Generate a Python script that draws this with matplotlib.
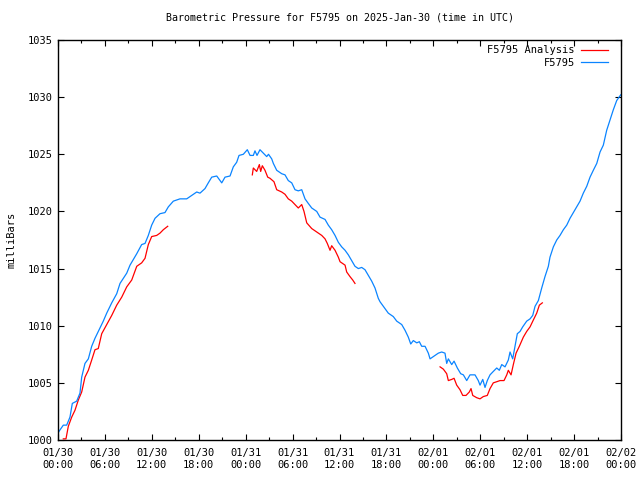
import datetime as dt
import matplotlib
matplotlib.use("Agg")
import matplotlib.pyplot as plt

# hours since 2025-01-30 00:00 UTC, pressure in mb
blue_hours = [0.0, 0.17, 0.68, 1.11, 1.53, 1.83, 2.39, 2.81, 3.03, 3.45, 3.88, 4.31, 4.73, 5.15,
              5.79, 6.23, 6.87, 7.51, 7.93, 8.79, 9.21, 10.07, 10.70, 11.13, 11.55, 11.98, 12.41,
              13.04, 13.68, 14.11, 14.75, 15.60, 16.46, 17.10, 17.74, 18.16, 18.80, 19.22, 19.66,
              20.30, 20.94, 21.36, 22.00, 22.42, 22.85, 23.15, 23.70, 24.21, 24.56, 24.98, 25.19,
              25.45, 25.83, 26.26, 26.69, 26.92, 27.33, 27.54, 27.97, 28.61, 29.03, 29.45, 29.89,
              30.31, 30.73, 31.17, 31.59, 32.01, 32.45, 33.09, 33.51, 34.15, 34.57, 35.00, 35.43,
              35.85, 36.28, 36.71, 37.13, 37.56, 37.98, 38.41, 38.84, 39.26, 39.69, 40.12, 40.54,
              40.96, 41.18, 41.82, 42.24, 42.88, 43.32, 43.96, 44.38, 44.80, 45.11, 45.44, 45.88,
              46.21, 46.51, 46.94, 47.36, 47.58, 48.00, 48.64, 49.07, 49.49, 49.71, 49.92, 50.35,
              50.65, 51.07, 51.50, 51.84, 52.27, 52.69, 53.33, 53.75, 53.97, 54.32, 54.61, 54.90,
              55.25, 55.67, 56.11, 56.44, 56.75, 57.17, 57.59, 57.81, 58.15, 58.45, 58.74, 59.09,
              59.43, 59.94, 60.37, 60.71, 61.01, 61.43, 61.86, 62.28, 62.71, 62.92, 63.35, 63.78,
              64.20, 64.63, 65.06, 65.48, 65.91, 66.34, 66.76, 67.18, 67.62, 68.04, 68.46, 68.90,
              69.32, 69.74, 70.17, 70.60, 71.02, 71.45, 71.96]
blue_mb = [1000.6, 1000.8, 1001.3, 1001.3, 1002.0, 1003.2, 1003.4, 1004.1, 1005.5, 1006.7, 1007.1,
           1008.2, 1008.9, 1009.5, 1010.4, 1011.1, 1012.0, 1012.8, 1013.7, 1014.6, 1015.3, 1016.3,
           1017.1, 1017.2, 1017.9, 1018.8, 1019.4, 1019.8, 1019.9, 1020.4, 1020.9, 1021.1, 1021.1,
           1021.4, 1021.7, 1021.6, 1022.0, 1022.5, 1023.0, 1023.1, 1022.5, 1023.0, 1023.1, 1023.9,
           1024.3, 1024.9, 1025.0, 1025.4, 1024.9, 1024.9, 1025.3, 1024.9, 1025.4, 1025.1, 1024.8,
           1025.0, 1024.6, 1024.2, 1023.6, 1023.3, 1023.2, 1022.7, 1022.5, 1021.9, 1021.8, 1021.9,
           1021.1, 1020.7, 1020.3, 1020.0, 1019.5, 1019.3, 1018.8, 1018.4, 1017.9, 1017.3, 1016.9,
           1016.6, 1016.2, 1015.7, 1015.2, 1015.0, 1015.1, 1014.9, 1014.4, 1013.9, 1013.3, 1012.4,
           1012.1, 1011.5, 1011.1, 1010.8, 1010.4, 1010.1, 1009.6, 1009.0, 1008.4, 1008.7, 1008.5,
           1008.6, 1008.2, 1008.2, 1007.6, 1007.1, 1007.3, 1007.6, 1007.7, 1007.6, 1006.7, 1007.1,
           1006.6, 1006.9, 1006.3, 1005.8, 1005.7, 1005.2, 1005.7, 1005.7, 1005.2, 1004.8, 1005.3,
           1004.6, 1005.2, 1005.7, 1006.0, 1006.3, 1006.1, 1006.6, 1006.4, 1007.0, 1007.7, 1007.1,
           1008.2, 1009.3, 1009.5, 1009.9, 1010.4, 1010.6, 1010.9, 1011.7, 1012.2, 1013.3, 1014.3,
           1015.2, 1016.0, 1016.9, 1017.5, 1017.9, 1018.4, 1018.8, 1019.4, 1019.9, 1020.4, 1020.9,
           1021.6, 1022.2, 1023.0, 1023.6, 1024.2, 1025.2, 1025.8, 1027.1, 1028.0, 1028.9, 1029.7,
           1030.2]

# analysis series has three separate pieces
red_hours_1 = [0.68, 1.02, 1.32, 1.75, 2.17, 2.60, 3.03, 3.45, 3.88, 4.31, 4.73, 5.15, 5.59, 6.23,
               6.87, 7.51, 8.15, 8.79, 9.43, 10.07, 10.70, 11.13, 11.55, 11.98, 12.62, 13.04,
               13.47, 14.03]
red_mb_1 = [1000.1, 1000.1, 1001.2, 1002.0, 1002.6, 1003.5, 1004.2, 1005.5, 1006.1, 1007.0, 1007.9,
            1008.0, 1009.3, 1010.1, 1010.9, 1011.8, 1012.5, 1013.4, 1014.0, 1015.2, 1015.5, 1015.9,
            1017.1, 1017.8, 1017.9, 1018.1, 1018.4, 1018.7]
red_hours_2 = [24.85, 24.98, 25.41, 25.75, 25.92, 26.13, 26.47, 26.82, 27.11, 27.62, 27.97, 28.61,
               29.03, 29.45, 29.89, 30.31, 30.73, 31.17, 31.46, 31.81, 32.45, 33.09, 33.73, 34.15,
               34.44, 34.79, 35.00, 35.43, 35.85, 36.07, 36.71, 36.92, 37.34, 37.69, 37.98]
red_mb_2 = [1023.2, 1023.8, 1023.5, 1024.1, 1023.5, 1024.0, 1023.6, 1023.0, 1022.9, 1022.6, 1021.9,
            1021.7, 1021.5, 1021.1, 1020.9, 1020.6, 1020.3, 1020.6, 1020.0, 1019.0, 1018.5, 1018.2,
            1017.9, 1017.6, 1017.2, 1016.6, 1017.0, 1016.6, 1016.0, 1015.6, 1015.3, 1014.7, 1014.3,
            1014.0, 1013.7]
red_hours_3 = [48.86, 49.28, 49.71, 49.92, 50.35, 50.65, 50.99, 51.41, 51.76, 52.18, 52.60, 52.82,
               53.04, 53.55, 53.97, 54.39, 54.90, 55.25, 55.67, 56.11, 56.53, 57.04, 57.39, 57.59,
               57.94, 58.23, 58.58, 59.00, 59.51, 59.94, 60.37, 60.79, 61.22, 61.56, 61.94]
red_mb_3 = [1006.4, 1006.2, 1005.8, 1005.2, 1005.3, 1005.4, 1004.8, 1004.4, 1003.9, 1003.9, 1004.2,
            1004.5, 1003.9, 1003.7, 1003.6, 1003.8, 1003.9, 1004.5, 1005.0, 1005.1, 1005.2, 1005.2,
            1005.7, 1006.1, 1005.7, 1006.6, 1007.6, 1008.2, 1009.0, 1009.5, 1009.9, 1010.5, 1011.1,
            1011.8, 1012.0]

start = dt.datetime(2025, 1, 30, 0, 0)
major_hours = list(range(0, 73, 6))
tick_labels = [(start + dt.timedelta(hours=h)).strftime("%m/%d\n%H:%M") for h in major_hours]

plt.rcParams['font.family'] = ['DejaVu Sans Mono']
plt.rcParams['font.size'] = 7.5

fig = plt.figure(figsize=(6.4, 4.8), dpi=100)
ax = fig.add_axes([58 / 640, 40 / 480, 563 / 640, 400 / 480])

red = '#ff0000'
blue = '#0a84ff'
ax.plot(red_hours_1, red_mb_1, color=red, lw=0.9, label='F5795 Analysis')
ax.plot(red_hours_2, red_mb_2, color=red, lw=0.9)
ax.plot(red_hours_3, red_mb_3, color=red, lw=0.9)
ax.plot(blue_hours, blue_mb, color=blue, lw=0.9, label='F5795')

ax.set_xlim(0, 72)
ax.set_ylim(1000, 1035)
ax.set_xticks(major_hours)
ax.set_xticklabels(tick_labels)
ax.set_xticks(range(3, 72, 6), minor=True)
ax.set_yticks(range(1000, 1036, 5))

ax.tick_params(which='both', direction='in', top=True, right=True, width=0.8, colors='black')
ax.tick_params(which='major', length=4, pad=6)
ax.tick_params(which='minor', length=2)
ax.tick_params(axis='y', pad=4)
for s in ax.spines.values():
    s.set_linewidth(1.0)

ax.set_ylabel('milliBars', labelpad=8)
ax.set_title('Barometric Pressure for F5795 on 2025-Jan-30 (time in UTC)', fontsize=7.2, pad=14)

ax.legend(loc='upper right', bbox_to_anchor=(0.99, 1.005), frameon=False, markerfirst=False,
          handlelength=2.6, handletextpad=0.6, labelspacing=0.25, borderaxespad=0.3)

fig.savefig('out.png', dpi=100)
